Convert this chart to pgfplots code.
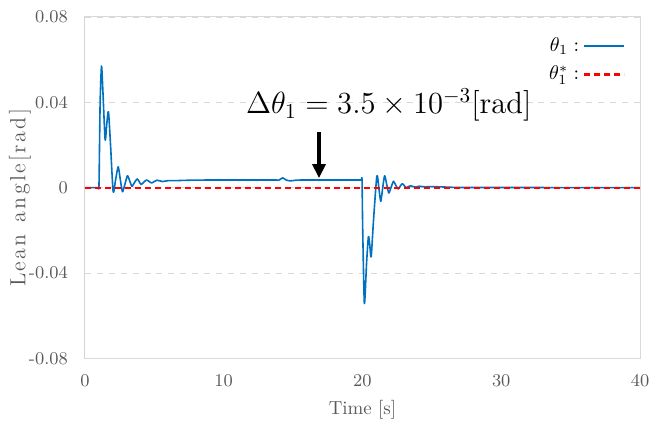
\documentclass[border=0pt]{standalone}
\usepackage{pgfplots}
\pgfplotsset{compat=1.18}
\usetikzlibrary{arrows.meta}
\definecolor{lineblue}{RGB}{0,112,192}
\definecolor{txtgray}{RGB}{89,89,89}
\definecolor{gridgray}{RGB}{217,217,217}
\definecolor{refred}{RGB}{255,0,0}
\newcommand\lsp{\kern1.2bp}

\pgfplotstableread{
t theta
0 0
0.9 0
0.97 0
1.02 0.002
1.1 0.04
1.2 0.057
1.3 0.045
1.46 0.0225
1.58 0.03
1.7 0.0356
1.85 0.02
2.04 -0.002
2.22 0.004
2.4 0.0098
2.55 0.004
2.71 -0.0019
2.9 0.002
3.07 0.0056
3.24 0.003
3.4 0.0006
3.58 0.0025
3.77 0.0041
3.92 0.0028
4.05 0.0015
4.25 0.0026
4.44 0.0036
4.62 0.003
4.8 0.0022
5.0 0.0029
5.2 0.0035
5.4 0.0032
5.6 0.0029
6.0 0.0033
6.5 0.0033
7.5 0.0035
9 0.0036
12 0.0036
13.8 0.0036
14.0 0.0036
14.25 0.0046
14.5 0.0036
14.8 0.0032
15.2 0.0035
15.6 0.0036
17 0.0036
19.5 0.0036
19.9 0.0036
19.97 0.0036
20.02 -0.02
20.14 -0.0543
20.3 -0.035
20.43 -0.0229
20.53 -0.027
20.63 -0.0324
20.8 -0.015
21.04 0.0056
21.18 0.0
21.32 -0.0064
21.46 0.0
21.6 0.0056
21.75 0.0015
21.9 -0.0025
22.07 0.0003
22.24 0.003
22.4 0.0012
22.57 -0.0006
22.72 0.0007
22.88 0.0019
23.02 0.0009
23.17 0.0
23.3 0.0005
23.46 0.0009
23.8 0.0003
24.1 0.0007
24.5 0.0004
25 0.0005
26 0.0003
27 0.0001
30 0.0001
40 0
}\thetadata

\pgfplotstableread{
t theta
0 0
40 0
}\refdata

\begin{document}
\begin{tikzpicture}
\begin{axis}[
  scale only axis, width=278bp, height=171bp,
  xmin=0, xmax=40, ymin=-0.08, ymax=0.08,
  scaled y ticks=false,
  xtick={0,10,20,30,40},
  ytick={-0.08,-0.04,0,0.04,0.08},
  yticklabels={-0.08,-0.04,0,0.04,0.08},
  major tick length=0pt,
  ymajorgrids, grid style={dashed, gridgray, line width=0.4bp},
  axis line style={gridgray, line width=0.5bp},
  tick label style={font=\fontsize{9}{11}\selectfont, text=txtgray},
  xticklabel style={yshift=-5bp},
  yticklabel style={xshift=-5bp},
  xlabel={Time [s]},
  ylabel={L\lsp e\lsp a\lsp n\lsp{} \lsp a\lsp n\lsp g\lsp l\lsp e\lsp[\lsp r\lsp a\lsp d\lsp]},
  xlabel style={at={(axis description cs:0.5,0)}, anchor=center, yshift=-25.5bp,
    font=\fontsize{9.5}{11}\selectfont, text=txtgray},
  ylabel style={at={(axis description cs:-0.117,0.47)}, anchor=center,
    font=\fontsize{11}{13}\selectfont, text=txtgray},
  legend style={draw=none, fill=none, at={(rel axis cs:0.985,0.965)}, anchor=north east,
    font=\fontsize{10}{12}\selectfont, row sep=2bp},
  legend plot pos=right,
  legend cell align=right,
  legend image code/.code={\draw[#1, line width=1.1bp] (0bp,0bp) -- (20bp,0bp);},
]
\draw[gray!60, line width=0.6bp] (rel axis cs:0,0) -- (rel axis cs:0,1);
\node[anchor=base, scale=1.07, font=\fontsize{14.4}{16}\selectfont] at (axis cs:21.9,0.0346)
  {$\Delta\theta_1 = 3.5\times10^{-3}$[rad]};
\draw[line width=1.9bp, -{Triangle[width=6.5bp,length=7bp]}] (axis cs:16.87,0.0262) -- (axis cs:16.87,0.0045);
\addplot[draw=lineblue, color=lineblue, line width=0.8bp, line join=round, smooth, tension=0.4] table[x=t, y=theta] {\thetadata};
\addlegendentry{$\theta_1:$}
\addplot[draw=refred, color=refred, line width=1.1bp, dash pattern=on 3bp off 2bp] table[x=t, y=theta] {\refdata};
\addlegendentry{$\theta_1^{*}:$}
\end{axis}
% page margins as in the reference
\pgfresetboundingbox
\path[use as bounding box] ([xshift=-42.5bp,yshift=-34.5bp]current axis.south west)
  rectangle ([xshift=5bp,yshift=8.5bp]current axis.north east);
\end{tikzpicture}
\end{document}
